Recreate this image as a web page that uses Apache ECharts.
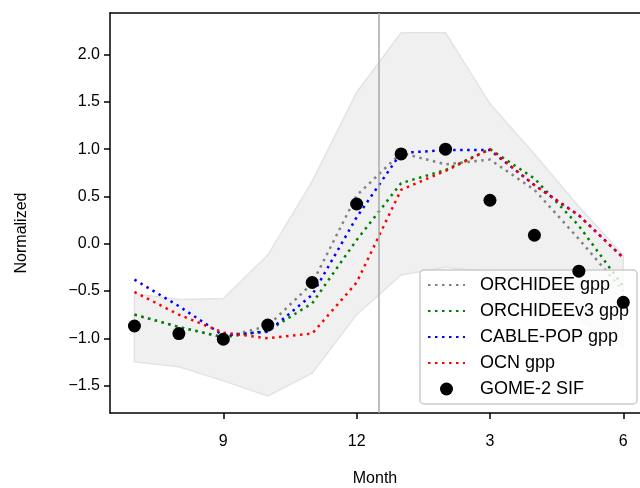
<!DOCTYPE html>
<html><head><meta charset="utf-8">
<script src="https://cdn.jsdelivr.net/npm/echarts@6/dist/echarts.min.js"></script>
<style>html,body{margin:0;padding:0;background:#fff}#c{width:640px;height:488px}</style>
</head><body><div id="c"></div>
<script>
const months = ['7','8','9','10','11','12','1','2','3','4','5','6'];
const xTickIdx = [2, 5, 8, 11];
const yTicks = [-1.5, -1.0, -0.5, 0.0, 0.5, 1.0, 1.5, 2.0];
const orchidee   = [-0.75, -0.88, -0.99, -0.87, -0.42, 0.51, 0.96, 0.84, 0.89, 0.57, 0.05, -0.50];
const orchideeV3 = [-0.75, -0.88, -0.99, -0.92, -0.63, 0.04, 0.64, 0.78, 1.00, 0.69, 0.19, -0.45];
const cablePop   = [-0.38, -0.66, -0.97, -0.93, -0.54, 0.28, 0.96, 0.99, 0.99, 0.62, 0.30, -0.15];
const ocn        = [-0.51, -0.75, -0.94, -1.00, -0.95, -0.41, 0.57, 0.77, 1.00, 0.62, 0.30, -0.15];
const gomeSif    = [-0.87, -0.95, -1.01, -0.86, -0.41, 0.42, 0.95, 1.00, 0.46, 0.09, -0.29, -0.62];
const bandUpper  = [-0.53, -0.59, -0.58, -0.12, 0.66, 1.60, 2.23, 2.23, 1.48, 0.95, 0.39, -0.12];
const bandLower  = [-1.25, -1.30, -1.45, -1.61, -1.37, -0.75, -0.33, -0.25, -0.30, -0.50, -0.80, -1.10];
const splitX = 5.5;

const FONT = 'Liberation Sans, Arial, sans-serif';
const pts = arr => arr.map((v, i) => [i, v]);
const lineSeries = (name, arr, color) => ({
  name, type: 'line', data: pts(arr), symbol: 'none', showSymbol: false,
  lineStyle: { color, width: 2.5, type: [2.5, 4.5], cap: 'butt' },
  itemStyle: { color }, z: 3, silent: true
});
const hiddenSym = { color: 'rgba(0,0,0,0)', borderWidth: 0, opacity: 0 };

const chart = echarts.init(document.getElementById('c'), null, { renderer: 'canvas' });
chart.setOption({
  animation: false,
  textStyle: { fontFamily: FONT },
  grid: { left: 110, right: 0, top: 13, bottom: 75, containLabel: false, outerBoundsMode: 'none' },
  xAxis: [{
    type: 'value', min: -0.55, max: 11.376,
    name: 'Month', nameLocation: 'middle', nameGap: 58,
    nameTextStyle: { fontSize: 16, color: '#000', fontFamily: FONT },
    axisLine: { show: true, onZero: false, lineStyle: { color: '#000', width: 1.5 } },
    axisTick: { show: true, length: 6, lineStyle: { color: '#000', width: 1.5 }, customValues: xTickIdx },
    axisLabel: { fontSize: 16, color: '#000', margin: 21, fontFamily: FONT, customValues: xTickIdx,
      formatter: v => months[Math.round(v)] },
    splitLine: { show: false }
  }, {
    type: 'value', position: 'top', min: -0.55, max: 11.376,
    axisLine: { show: true, onZero: false, lineStyle: { color: '#000', width: 1.5 } },
    axisTick: { show: false }, axisLabel: { show: false }, splitLine: { show: false }
  }],
  yAxis: {
    type: 'value', min: -1.79, max: 2.44,
    name: 'Normalized', nameLocation: 'middle', nameGap: 80, nameRotate: 90,
    nameTextStyle: { fontSize: 16, color: '#000', fontFamily: FONT, padding: [0, 40, 0, 0] },
    axisLine: { show: true, onZero: false, lineStyle: { color: '#000', width: 1.5 } },
    axisTick: { show: true, length: 6, lineStyle: { color: '#000', width: 1.5 }, customValues: yTicks },
    axisLabel: { fontSize: 16, color: '#000', margin: 10, fontFamily: FONT, customValues: yTicks,
      formatter: v => (v < 0 ? '\u2212' : '') + Math.abs(v).toFixed(1) },
    splitLine: { show: false }
  },
  legend: {
    orient: 'vertical', left: 420, top: 270,
    itemWidth: 37, itemHeight: 13, itemGap: 8,
    padding: [6, 8, 6, 7],
    backgroundColor: 'rgba(255,255,255,0.8)', borderColor: '#cccccc', borderWidth: 1.5, borderRadius: 4,
    textStyle: { fontSize: 18, color: '#000', fontFamily: FONT, padding: [0, 0, 0, 10] },
    data: [
      { name: 'ORCHIDEE gpp', itemStyle: hiddenSym },
      { name: 'ORCHIDEEv3 gpp', itemStyle: hiddenSym },
      { name: 'CABLE-POP gpp', itemStyle: hiddenSym },
      { name: 'OCN gpp', itemStyle: hiddenSym },
      { name: 'GOME-2 SIF', icon: 'circle' }
    ]
  },
  series: [
    {
      name: 'band', type: 'custom', silent: true, z: 1,
      data: pts(bandUpper),
      renderItem: (params, api) => {
        if (params.dataIndex !== 0) return null;
        const poly = [];
        bandUpper.forEach((v, i) => poly.push(api.coord([i, v])));
        for (let i = bandLower.length - 1; i >= 0; i--) poly.push(api.coord([i, bandLower[i]]));
        return { type: 'polygon', shape: { points: poly },
          style: { fill: '#f0f0f0', stroke: '#e3e3e3', lineWidth: 1.5 } };
      },
      markLine: {
        silent: true, symbol: ['none', 'none'], label: { show: false },
        lineStyle: { color: '#a8a8a8', width: 1.5, type: 'solid' },
        data: [{ xAxis: splitX }]
      }
    },
    lineSeries('ORCHIDEE gpp', orchidee, '#808080'),
    lineSeries('ORCHIDEEv3 gpp', orchideeV3, '#008000'),
    lineSeries('CABLE-POP gpp', cablePop, '#0000ff'),
    lineSeries('OCN gpp', ocn, '#ff0000'),
    { name: 'GOME-2 SIF', type: 'scatter', data: pts(gomeSif), symbol: 'circle', symbolSize: 13,
      itemStyle: { color: '#000', opacity: 1 }, z: 4, silent: true }
  ]
});
</script></body></html>
